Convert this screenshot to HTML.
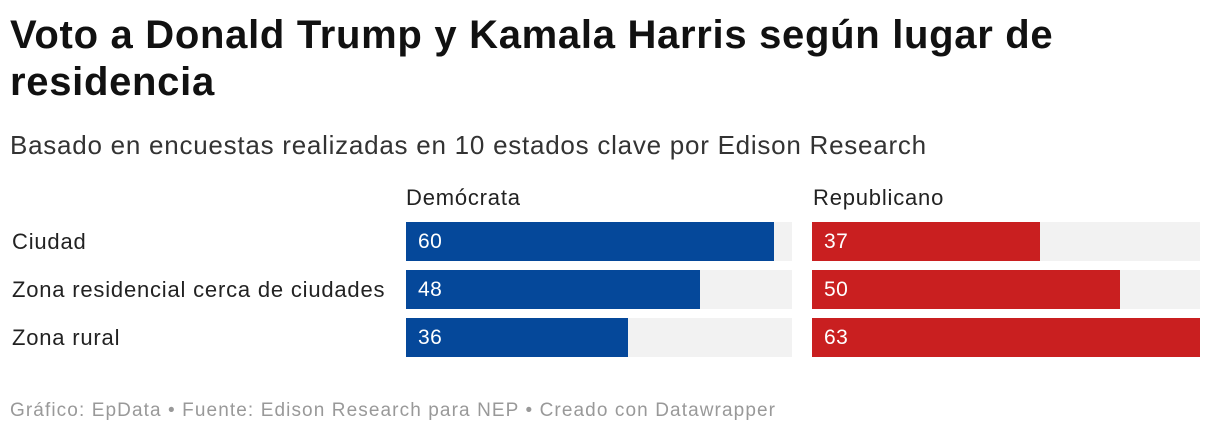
<!DOCTYPE html>
<html><head><meta charset="utf-8"><style>
body{margin:0;width:1220px;height:434px;background:#fff;font-family:"Liberation Sans",sans-serif;position:relative;overflow:hidden;color:#222}
.a{position:absolute;white-space:nowrap}
h1{position:absolute;left:10px;top:12px;margin:0;font-size:40px;line-height:47px;font-weight:bold;color:#111;letter-spacing:0.7px}
.lab{font-size:22px;color:#222;letter-spacing:0.8px}
.bg{position:absolute;background:#f2f2f2;height:39px}
.bar{position:absolute;height:39px;color:#fff;font-size:21px;line-height:39px;padding-left:12px;box-sizing:border-box;letter-spacing:0.5px}
</style></head><body>
<h1>Voto a Donald Trump y Kamala Harris según lugar de<br>residencia</h1>
<div class="a" style="left:10px;top:130px;font-size:26px;color:#333;letter-spacing:0.75px">Basado en encuestas realizadas en 10 estados clave por Edison Research</div>
<div class="a lab" style="left:406px;top:185px">Demócrata</div>
<div class="a lab" style="left:813px;top:185px">Republicano</div>
<div class="a lab" style="left:12px;top:229px">Ciudad</div>
<div class="a lab" style="left:12px;top:277px">Zona residencial cerca de ciudades</div>
<div class="a lab" style="left:12px;top:325px">Zona rural</div>
<div class="bg" style="left:406px;top:222px;width:386px"></div>
<div class="bg" style="left:406px;top:270px;width:386px"></div>
<div class="bg" style="left:406px;top:318px;width:386px"></div>
<div class="bg" style="left:812px;top:222px;width:388px"></div>
<div class="bg" style="left:812px;top:270px;width:388px"></div>
<div class="bg" style="left:812px;top:318px;width:388px"></div>
<div class="bar" style="left:406px;top:222px;width:368px;background:#05489a">60</div>
<div class="bar" style="left:406px;top:270px;width:294px;background:#05489a">48</div>
<div class="bar" style="left:406px;top:318px;width:222px;background:#05489a">36</div>
<div class="bar" style="left:812px;top:222px;width:228px;background:#c91f20">37</div>
<div class="bar" style="left:812px;top:270px;width:308px;background:#c91f20">50</div>
<div class="bar" style="left:812px;top:318px;width:388px;background:#c91f20">63</div>
<div class="a" style="left:10px;top:400px;font-size:19px;color:#999;letter-spacing:1.1px">Gráfico: EpData • Fuente: Edison Research para NEP • Creado con Datawrapper</div>
</body></html>
